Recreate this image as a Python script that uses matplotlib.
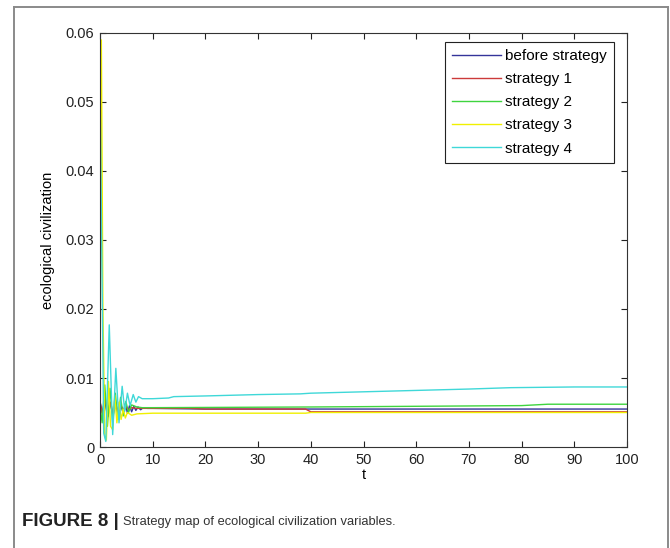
import matplotlib
matplotlib.use("Agg")
import matplotlib.pyplot as plt
from matplotlib.lines import Line2D

plt.rcParams["font.family"] = ["Liberation Sans", "DejaVu Sans"]

# sampled trajectories of the ecological civilization variable
t_before = [0, 0.4, 0.9, 1.4, 1.9, 2.4, 2.9, 3.4, 3.9, 4.4, 4.8, 5.2, 5.6, 6.0,
            6.4, 6.8, 7.2, 7.7, 8.2, 9, 10, 20, 40, 60, 80, 100]
y_before = [0.0066, 0.0050, 0.0068, 0.0046, 0.0064, 0.0048, 0.0062, 0.0049,
            0.0061, 0.0050, 0.0063, 0.0049, 0.0060, 0.0051, 0.0059, 0.0053,
            0.0058, 0.0054, 0.0057, 0.0056, 0.0056, 0.0055, 0.0055, 0.0055,
            0.0055, 0.0055]

t_s1 = [0, 0.5, 1.0, 1.5, 2.0, 2.5, 3.0, 3.5, 4.0, 4.5, 5.0, 5.5, 6.0, 7, 8,
        10, 17, 20, 39, 40, 100]
y_s1 = [0.0065, 0.0045, 0.0070, 0.0044, 0.0065, 0.0047, 0.0062, 0.0050,
        0.0060, 0.0052, 0.0058, 0.0054, 0.0057, 0.0056, 0.0056, 0.0056,
        0.0056, 0.0055, 0.0055, 0.0051, 0.0051]

t_s2 = [0, 0.4, 0.9, 1.4, 1.9, 2.4, 2.9, 3.4, 3.9, 4.4, 4.9, 5.4, 6, 7, 8,
        10, 40, 60, 80, 85, 100]
y_s2 = [0.0060, 0.0035, 0.0090, 0.0030, 0.0085, 0.0035, 0.0078, 0.0040,
        0.0072, 0.0045, 0.0066, 0.0050, 0.0061, 0.0058, 0.0057, 0.0057,
        0.0058, 0.0059, 0.0060, 0.0062, 0.0062]

t_s3 = [0, 0.25, 0.55, 0.9, 1.2, 1.6, 2.0, 2.4, 2.8, 3.2, 3.6, 4.0, 4.4, 4.8,
        5.2, 6, 7, 10, 39, 40, 100]
y_s3 = [0.0050, 0.0590, 0.0200, 0.0015, 0.0010, 0.0095, 0.0030, 0.0025,
        0.0075, 0.0035, 0.0065, 0.0040, 0.0055, 0.0042, 0.0050, 0.0046,
        0.0048, 0.0049, 0.0049, 0.0050, 0.0050]

t_s4 = [0, 0.7, 1.1, 1.75, 2.4, 3.0, 3.6, 4.2, 4.7, 5.2, 5.7, 6.3, 6.8,
        7.3, 8, 9, 10, 13, 14, 20, 30, 38, 40, 50, 60, 70, 78, 90, 100]
y_s4 = [0.0525, 0.0020, 0.0008, 0.0177, 0.0018, 0.0114, 0.0035, 0.0088,
        0.0052, 0.0078, 0.0060, 0.0076, 0.0065, 0.0073, 0.0070, 0.0070,
        0.0070, 0.0071, 0.0073, 0.0074, 0.0076, 0.0077, 0.0078, 0.0080,
        0.0082, 0.0084, 0.0086, 0.0087, 0.0087]

labels = ["before strategy", "strategy 1", "strategy 2", "strategy 3", "strategy 4"]
colors = ["#34349a", "#cc3a3a", "#3fd43f", "#f0f000", "#3fd8d8"]
series = [(t_before, y_before), (t_s1, y_s1), (t_s2, y_s2),
          (t_s3, y_s3), (t_s4, y_s4)]

fig = plt.figure(figsize=(6.7, 5.48), dpi=100)
ax = fig.add_axes([0.1493, 0.1843, 0.7865, 0.7555])

for (ts, ys), lab, c in zip(series, labels, colors):
    ax.plot(ts, ys, color=c, lw=1.0, label=lab)

ax.set_xlim(0, 100)
ax.set_ylim(0, 0.06)
ax.set_xticks(range(0, 101, 10))
ax.set_yticks([0, 0.01, 0.02, 0.03, 0.04, 0.05, 0.06])
ax.set_yticklabels(["0", "0.01", "0.02", "0.03", "0.04", "0.05", "0.06"])
ax.tick_params(direction="in", top=True, right=True, length=4, width=0.8,
               labelsize=10.5, pad=4, colors="#222222")
for s in ax.spines.values():
    s.set_linewidth(0.8)
    s.set_color("#333333")
ax.set_xlabel("t", fontsize=10.5, labelpad=1)
ax.set_ylabel("ecological civilization", fontsize=10.5, labelpad=8)

leg = ax.legend(loc="upper right", bbox_to_anchor=(0.9753, 0.978),
                borderaxespad=0, fontsize=11, handlelength=3.2,
                handletextpad=0.3, labelspacing=0.6, fancybox=False,
                framealpha=1, edgecolor="#222222", borderpad=0.45)
leg.get_frame().set_linewidth(0.8)

# outer panel frame around plot and caption
fx0, fx1, fy1 = 14 / 670, 668 / 670, 1 - 7 / 548
for xs, ys in [([fx0, fx0], [0, fy1]), ([fx0, fx1], [fy1, fy1]),
               ([fx1, fx1], [fy1, 0])]:
    fig.add_artist(Line2D(xs, ys, color="#8a8a8a", lw=1.4,
                          transform=fig.transFigure))

# caption: bold figure number followed by plain description
cap1 = fig.text(22 / 670, 1 - 522 / 548, "FIGURE 8 |", fontsize=13.5,
                fontweight="bold", va="center", ha="left", color="#222222")
fig.add_artist(matplotlib.text.Annotation(
    "Strategy map of ecological civilization variables.",
    xy=(1, 0.5), xycoords=cap1, xytext=(3, 0), textcoords="offset points",
    fontsize=9.3, va="center", ha="left", color="#333333"))

fig.savefig("out.png", dpi=100)
